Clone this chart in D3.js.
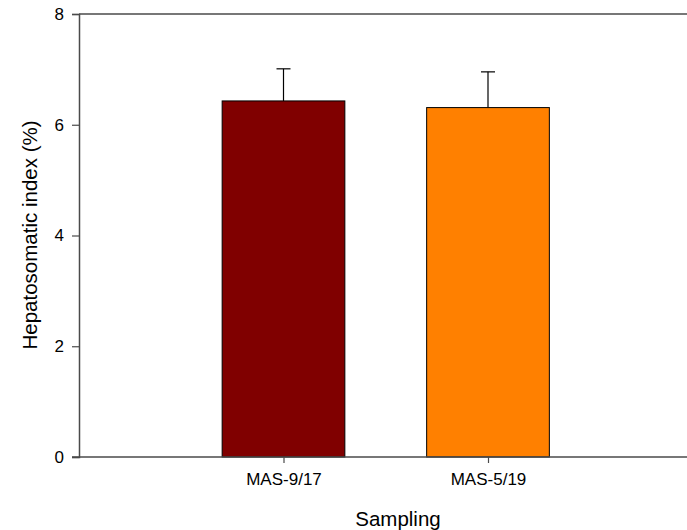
<!DOCTYPE html>
<html>
<head>
<meta charset="utf-8">
<script src="https://cdn.jsdelivr.net/npm/d3@7"></script>
<style>
  html, body { margin: 0; padding: 0; background: #fff; }
  svg { display: block; font-family: "Liberation Sans", Arial, sans-serif; }
</style>
</head>
<body>
<svg id="chart" width="687" height="530"></svg>
<script>
// Hepatosomatic index by sampling campaign (mean + SD)
const categories = ["MAS-9/17", "MAS-5/19"];
const means = [6.43, 6.31];
const sds = [0.58, 0.645];
const barColors = ["#800000", "#ff8000"];
const yTicks = [0, 2, 4, 6, 8];

const svg = d3.select("#chart");
const W = 687, H = 530;
const plotLeft = 79, plotTop = 14, plotBottom = 457;

// categories sit at positions 1 and 2 on a 0..3 axis
const x = d3.scaleLinear().domain([0, 3]).range([plotLeft, plotLeft + 3 * 204.5]);
const y = d3.scaleLinear().domain([0, 8]).range([plotBottom, plotTop]);
const barW = 0.6;

const data = categories.map((c, i) => ({ cat: c, pos: i + 1, mean: means[i], sd: sds[i], color: barColors[i] }));

// bars
svg.selectAll("rect.bar").data(data).join("rect")
  .attr("class", "bar")
  .attr("x", d => x(d.pos - barW / 2))
  .attr("width", d => x(d.pos + barW / 2) - x(d.pos - barW / 2))
  .attr("y", d => y(d.mean))
  .attr("height", d => y(0) - y(d.mean))
  .attr("fill", d => d.color)
  .attr("stroke", "#000")
  .attr("stroke-width", 1);

// upper error bars
const eb = svg.selectAll("g.err").data(data).join("g").attr("class", "err")
  .attr("stroke", "#000").attr("stroke-width", 1.2);
eb.append("line")
  .attr("x1", d => x(d.pos)).attr("x2", d => x(d.pos))
  .attr("y1", d => y(d.mean)).attr("y2", d => y(d.mean + d.sd));
eb.append("line")
  .attr("x1", d => x(d.pos) - 7).attr("x2", d => x(d.pos) + 7)
  .attr("y1", d => y(d.mean + d.sd)).attr("y2", d => y(d.mean + d.sd));

// frame line along the top, running to the right edge
const axisColor = "#4a4a4a";
svg.append("line").attr("x1", plotLeft).attr("x2", W).attr("y1", plotTop).attr("y2", plotTop)
  .attr("stroke", axisColor).attr("stroke-width", 1.5);

// y axis
const yAxis = svg.append("g").attr("transform", `translate(${plotLeft},0)`)
  .call(d3.axisLeft(y).tickValues(yTicks).tickSize(7).tickPadding(8).tickFormat(d3.format("d")));
yAxis.select(".domain").attr("stroke", axisColor).attr("stroke-width", 1.5);
yAxis.selectAll(".tick line").attr("stroke", axisColor).attr("stroke-width", 1.2);
yAxis.selectAll(".tick text").attr("font-size", 17).attr("fill", "#000")
  .attr("font-family", "Liberation Sans, Arial, sans-serif");

// x axis
const xAxis = svg.append("g").attr("transform", `translate(0,${plotBottom})`)
  .call(d3.axisBottom(x).tickValues(data.map(d => d.pos)).tickSize(6).tickPadding(10)
    .tickFormat(v => categories[v - 1]));
xAxis.select(".domain").remove();
xAxis.selectAll(".tick line").attr("stroke", axisColor).attr("stroke-width", 1.2);
xAxis.selectAll(".tick text").attr("font-size", 17).attr("fill", "#000")
  .attr("font-family", "Liberation Sans, Arial, sans-serif");
svg.append("line").attr("x1", plotLeft - 7).attr("x2", W).attr("y1", plotBottom).attr("y2", plotBottom)
  .attr("stroke", axisColor).attr("stroke-width", 1.5);

// axis titles
svg.append("text")
  .attr("x", 398).attr("y", 526)
  .attr("text-anchor", "middle").attr("font-size", 20.5).attr("fill", "#000")
  .text("Sampling");
svg.append("text")
  .attr("transform", "translate(37,235) rotate(-90)")
  .attr("text-anchor", "middle").attr("font-size", 20.5).attr("fill", "#000")
  .text("Hepatosomatic index (%)");
</script>
</body>
</html>
